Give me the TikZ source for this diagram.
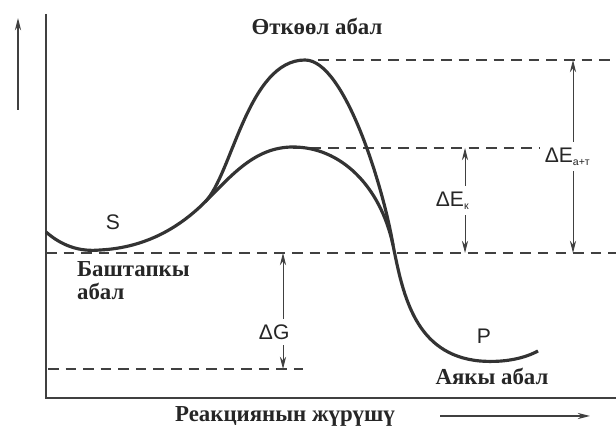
\documentclass[tikz,border=0pt]{standalone}
\usepackage{fontspec}
\setmainfont{Liberation Serif}
\newfontfamily\labelfont{Liberation Sans}
\usepackage{tikz}
\usetikzlibrary{arrows.meta,calc}

\begin{document}
\begin{tikzpicture}[
        x=0.02cm, y=-0.02cm,
        every node/.style={inner sep=1pt},
        curve/.style={line width=1.8pt, draw=black!80},
        axis/.style={line width=0.9pt, draw=black!75},
        level/.style={line width=0.6pt, draw=black!75, dash pattern=on 6pt off 4pt},
        gap/.style={<->, line width=0.5pt, draw=black!75},
        statetext/.style={font=\fontsize{13}{13.5}\selectfont\bfseries, text=black!85, align=left},
        letter/.style={font=\labelfont\fontsize{12}{14}\selectfont, text=black!85, fill=white},
        >={Stealth[length=7pt,width=3.5pt]}
    ]
        \useasboundingbox (0,0) rectangle (616,431);

        % Levels
        \coordinate (topA) at (318,60);
        \coordinate (topB) at (293,148);
        \coordinate (startL) at (46,253);
        \coordinate (endL) at (48,369);

        % Axes
        \coordinate (origin) at (46,398);
        \draw[axis] (46,14) -- (origin) -- (616,398);
        \draw[axis, ->] (18,110) -- (18,18);

        % Dashed levels
        \draw[level] (topA) -- (616,60);
        \draw[level] (topB) -- (540,148);
        \draw[level] (startL) -- (616,253);
        \draw[level] (endL) -- (303,369);

        % Energy curves
        \draw[curve] (46,232) .. controls (62,246) and (80,252) .. (100,250)
            .. controls (140,248) and (175,232) .. (205,202)
            .. controls (232,175) and (255,147) .. (293,147)
            .. controls (340,147) and (380,185) .. (393,245)
            .. controls (403,295) and (415,355) .. (480,361)
            .. controls (505,363) and (525,358) .. (538,351);
        \draw[curve] (205,202) .. controls (232,175) and (248,60) .. (305,60)
            .. controls (345,60) and (384,190) .. (393,245);

        % Differences
        \coordinate (a1) at (573,60);
        \coordinate (a2) at (573,253);
        \coordinate (b1) at (465,148);
        \coordinate (b2) at (465,253);
        \coordinate (g1) at (283,253);
        \coordinate (g2) at (283,369);
        \draw[gap] (a1) -- node[letter, inner sep=3pt, xshift=-3pt] (dEa) {ΔE\textsubscript{\fontsize{6}{6}\selectfont а+т}} (a2);
        \draw[gap] (b1) -- node[letter, inner sep=3pt, xshift=-7pt] (dEk) {ΔE\textsubscript{\fontsize{6}{6}\selectfont к}} (b2);
        \draw[gap] (g1) -- node[letter, inner sep=3pt, xshift=-5pt, yshift=-12pt] (dG) {ΔG} (g2);

        % Labels
        \node[statetext] (trans) at (317,26) {Өткөөл абал};
        \node[letter] (S) at (113,222) {S};
        \node[statetext, anchor=north west] (start) at (75,259) {Баштапкы\\абал};
        \node[letter] (P) at (484,336) {P};
        \node[statetext, fill=white, inner sep=0pt] (final) at (492,376) {Аякы абал};
        \node[statetext] (xlabel) at (285,416) {Реакциянын жүрүшү};
        \coordinate (xa1) at (440,416);
        \coordinate (xa2) at (590,416);
        \draw[axis, ->] (xa1) -- (xa2);
    \end{tikzpicture}
\end{document}
